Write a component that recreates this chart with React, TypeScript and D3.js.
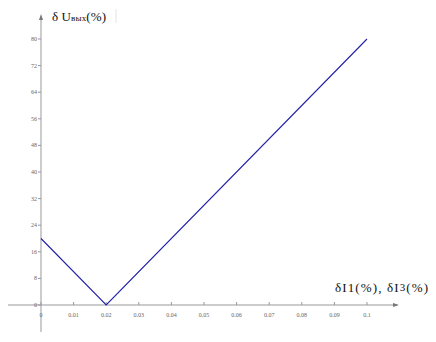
import React from "react";
import * as d3 from "d3";

const xValues = [0, 0.02, 0.1];
const yValues = [20, 0, 80];
const xTicks = [0, 0.01, 0.02, 0.03, 0.04, 0.05, 0.06, 0.07, 0.08, 0.09, 0.1];
const yTicks = [0, 8, 16, 24, 32, 40, 48, 56, 64, 72, 80];

export default function App() {
  const W = 436, H = 342;
  const x = d3.scaleLinear().domain([0, 0.1]).range([41, 367]);
  const y = d3.scaleLinear().domain([0, 80]).range([305, 39]);
  const pts: [number, number][] = xValues.map((v, i) => [v, yValues[i]]);
  const line = d3.line<[number, number]>().x(d => x(d[0])).y(d => y(d[1]));
  const x0 = x(0), y0 = y(0);
  const axisColor = "#999";
  const tickFont = "'Liberation Serif', 'DejaVu Serif', serif";
  const fmt = (v: number) => String(+v.toFixed(2));
  return (
    <svg width={W} height={H} style={{ position: "absolute", left: 0, top: 0, background: "#fff" }}>
      {/* x axis */}
      <line x1={8} x2={397} y1={y0} y2={y0} stroke={axisColor} strokeWidth={1} />
      <path d={`M${399},${y0} L${393},${y0 - 2} L${393},${y0 + 2} Z`} fill="#777" />
      {/* y axis */}
      <line x1={x0} x2={x0} y1={332} y2={17} stroke={axisColor} strokeWidth={1} />
      <path d={`M${x0},${14} L${x0 - 2},${20} L${x0 + 2},${20} Z`} fill="#777" />
      {xTicks.map(t => (
        <g key={"x" + t}>
          <line x1={x(t)} x2={x(t)} y1={y0} y2={y0 - 3} stroke={axisColor} />
          <text x={x(t)} y={317} fontSize={6} fill="#666" textAnchor="middle" fontFamily={tickFont}>{fmt(t)}</text>
        </g>
      ))}
      {yTicks.map(t => (
        <g key={"y" + t}>
          <line x1={x0} x2={x0 - 3} y1={y(t)} y2={y(t)} stroke={axisColor} />
          <text x={37} y={y(t) + 2} fontSize={6} fill="#666" textAnchor="end" fontFamily={tickFont}>{t}</text>
        </g>
      ))}
      <path d={line(pts) || ""} fill="none" stroke="#2020aa" strokeWidth={1.1} />
      {/* y label */}
      <text x={52} y={21} fontSize={13} fontFamily={tickFont} fill="#111" textLength={54} lengthAdjust="spacing">
        δ U<tspan fontSize={9}>вых</tspan>(%)
      </text>
      <line x1={116} x2={116} y1={9} y2={23} stroke="#e4e4e4" />
      {/* x label */}
      <text x={335} y={292} fontSize={13} fontFamily={tickFont} fill="#111" textLength={93} lengthAdjust="spacing">
        δI1(%), δI<tspan fontSize={11} dy={-1}>3</tspan><tspan dy={1}>(%)</tspan>
      </text>
    </svg>
  );
}
